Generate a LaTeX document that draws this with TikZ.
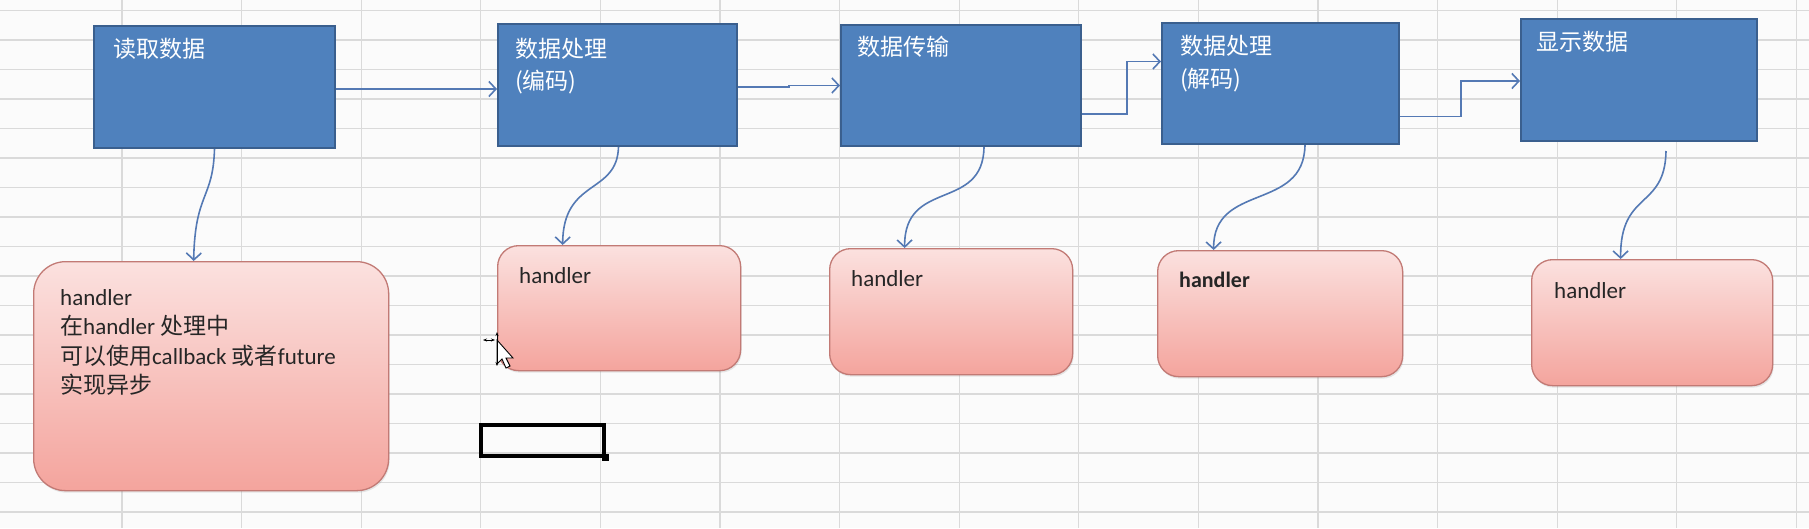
\documentclass[tikz,border=0pt]{standalone}
\usepackage{fontspec}
\setmainfont{Carlito}
\newfontfamily\cjk{Noto Sans CJK SC}
\usetikzlibrary{arrows.meta,shadows}
\definecolor{bgcol}{HTML}{FBFBFB}
\definecolor{gridcol}{HTML}{DADADA}
\definecolor{boxblue}{HTML}{4F81BD}
\definecolor{boxborder}{HTML}{3A5F8E}
\definecolor{arrowblue}{HTML}{5479B4}
\definecolor{htop}{HTML}{FBE1DF}
\definecolor{hbot}{HTML}{F4A49D}
\definecolor{hborder}{HTML}{C27A75}
\begin{document}
\begin{tikzpicture}[x=1pt,y=-1pt,
  bluebox/.style={draw=boxborder, line width=2pt, fill=boxblue, anchor=north west, inner sep=0pt},
  hbox/.style={draw=hborder, line width=1.3pt, top color=htop, bottom color=hbot, rounded corners=21pt, anchor=north west, inner sep=0pt,
    drop shadow={shadow xshift=1pt, shadow yshift=-2pt, opacity=0.18}},
  btext/.style={text=white, font=\cjk\fontsize{23}{28}\selectfont, anchor=base west, inner sep=0pt},
  htext/.style={text=black!85, font=\fontsize{23}{28}\selectfont, anchor=base west, inner sep=0pt},
  flow/.style={draw=arrowblue, line width=1.6pt, -{Straight Barb[length=7pt,width=15pt,line width=1.6pt]}},
]
\useasboundingbox (0,0) rectangle (1809,528);
\fill[bgcol] (0,0) rectangle (1809,528);
% spreadsheet grid
\foreach \k in {0,...,17} \draw[gridcol, line width=1.2pt] (0,10.5+29.5*\k) -- (1809,10.5+29.5*\k);
\foreach \k in {0,...,14} \draw[gridcol, line width=1.2pt] (122+119.6*\k,0) -- (122+119.6*\k,528);

% top boxes
\node[bluebox, minimum width=241pt, minimum height=122pt] (b1) at (93,25) {};
\node[bluebox, minimum width=239pt, minimum height=122pt] (b2) at (497,23) {};
\node[bluebox, minimum width=240pt, minimum height=121pt] (b3) at (840,24) {};
\node[bluebox, minimum width=237pt, minimum height=121pt] (b4) at (1161,22) {};
\node[bluebox, minimum width=236pt, minimum height=122pt] (b5) at (1520,18) {};

\node[btext] (t1) at (113,57) {读取数据};
\node[btext] (t2a) at (515,57) {数据处理};
\node[btext] (t2b) at (515,89) {(编码)};
\node[btext] (t3) at (857,55) {数据传输};
\node[btext] (t4a) at (1180,54) {数据处理};
\node[btext] (t4b) at (1180,87) {(解码)};
\node[btext] (t5) at (1536,50) {显示数据};

% handler boxes
\node[hbox, rounded corners=32pt, minimum width=355pt, minimum height=229pt] (h1) at (33,261) {};
\node[hbox, minimum width=243pt, minimum height=125pt] (h2) at (497,245) {};
\node[hbox, minimum width=243pt, minimum height=126pt] (h3) at (829,248) {};
\node[hbox, minimum width=245pt, minimum height=126pt] (h4) at (1157,250) {};
\node[hbox, minimum width=241pt, minimum height=126pt] (h5) at (1531,259) {};

\node[htext] (l1a) at (60,305) {handler};
\node[htext] (l1b) at (60,334) {{\cjk 在}handler {\cjk 处理中}};
\node[htext] (l1c) at (60,364) {{\cjk 可以使用}callback {\cjk 或者}future};
\node[htext] (l1d) at (60,393) {{\cjk 实现异步}};
\node[htext] (l2) at (519,283) {handler};
\node[htext] (l3) at (851,286) {handler};
\node[htext, font=\bfseries\fontsize{22}{28}\selectfont] (l4) at (1179,287) {handler};
\node[htext] (l5) at (1554,298) {handler};

% flow connectors
\draw[flow] ([yshift=-2pt]b1.east) -- ([yshift=-2pt]b1.east -| b2.west);
\draw[flow] ([yshift=-2pt]b2.east) -- ++(51,0) |- (b3.west);
\draw[flow] ([yshift=-28.5pt]b3.east) -- ++(45,0) |- ([yshift=22pt]b4.west);
\draw[flow] ([yshift=-33pt]b4.east) -- ++(61,0) |- ([yshift=-1pt]b5.west);

% handler connectors
\draw[flow] (b1.south) .. controls (213,200) and (195,192) .. ([xshift=-17.5pt]h1.north);
\draw[flow] ([xshift=1pt]b2.south) .. controls (617,195) and (563,178) .. ([xshift=-56.5pt]h2.north);
\draw[flow] ([xshift=23pt]b3.south) .. controls (983,212) and (904,178) .. ([xshift=-46.5pt]h3.north);
\draw[flow] ([xshift=24.5pt]b4.south) .. controls (1304,212) and (1213,182) .. ([xshift=-66.5pt]h4.north);
\draw[flow] ([xshift=27pt,yshift=-9pt]b5.south) .. controls (1665,210) and (1620,190) .. ([xshift=-31.5pt]h5.north);

% selected cell
\node[draw=black, line width=3.5pt, minimum width=123pt, minimum height=31pt, anchor=north west, inner sep=0pt] (sel) at (479,423) {};
\node[fill=black, minimum size=7pt, inner sep=0pt] (fh) at (sel.south east) {};

% mouse cursor
\coordinate (cur) at (497,340);
\draw[black, fill=white, line width=0.9pt] (cur) -- ++(0,24) -- ++(5,-5) -- ++(4,9) -- ++(4,-2) -- ++(-4,-8) -- ++(7,0) -- cycle;
\draw[black, line width=1pt, {Stealth[length=4pt]}-{Stealth[length=4pt]}] ([xshift=-14pt]cur) -- ([xshift=-2pt]cur);
\draw[black, line width=1pt, {Stealth[length=4pt]}-{Stealth[length=4pt]}] ([yshift=8pt]cur) -- ([yshift=-26pt]cur);
\end{tikzpicture}
\end{document}
